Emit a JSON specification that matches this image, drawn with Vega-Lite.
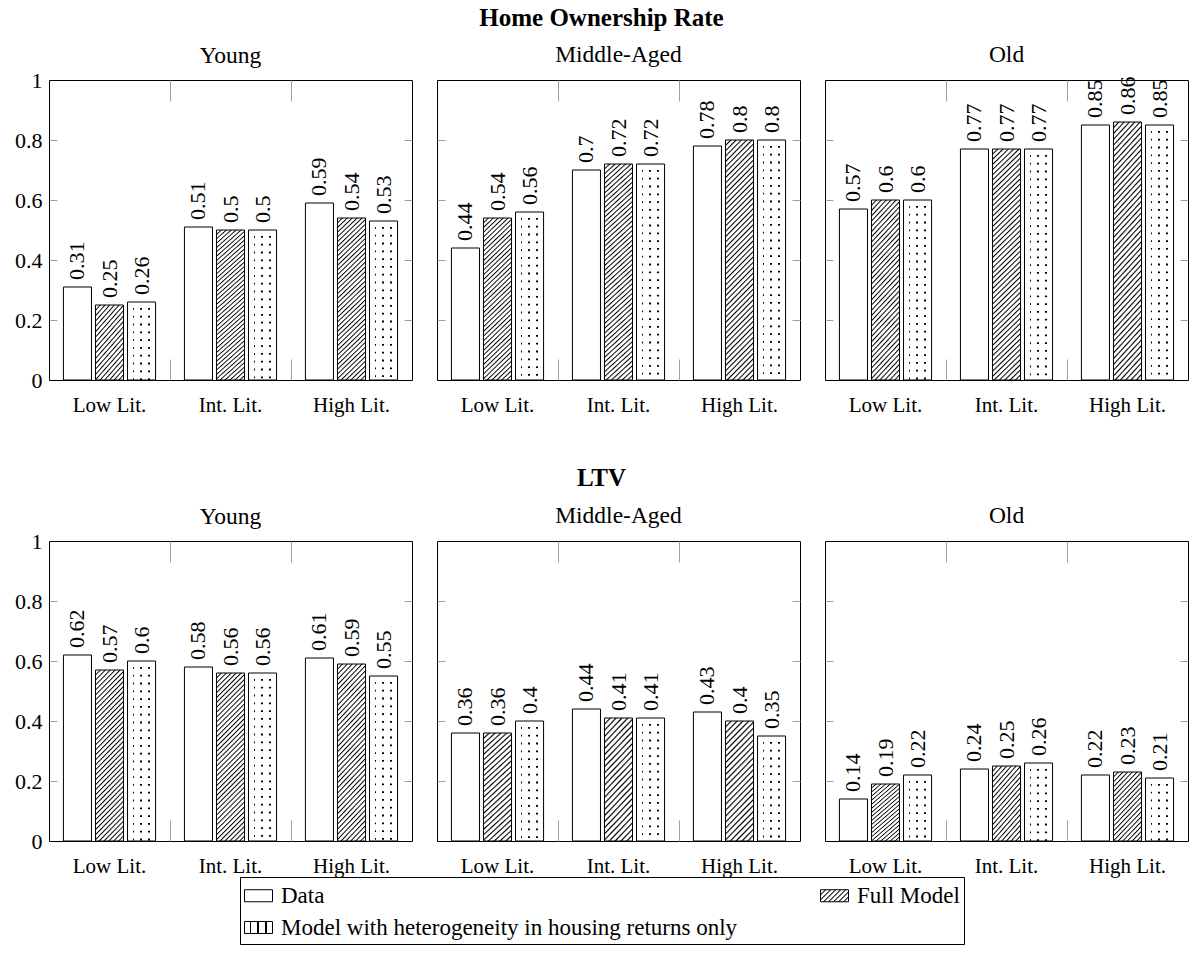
{
  "$schema": "https://vega.github.io/schema/vega-lite/v6.json",
  "background": "white",
  "padding": {"left": 14, "top": 5, "right": 0, "bottom": 0},
  "params": [
    {"name": "hS", "value": {"gradient": "linear", "x1": 0, "y1": 0, "x2": 0.512, "y2": 1.207, "stops": [
      {"offset": 0, "color": "#000"}, {"offset": 0.015, "color": "#fff"}, {"offset": 0.0375, "color": "#fff"},
      {"offset": 0.05, "color": "#000"}, {"offset": 0.065, "color": "#fff"}, {"offset": 0.0875, "color": "#fff"},
      {"offset": 0.1, "color": "#000"}, {"offset": 0.115, "color": "#fff"}, {"offset": 0.1375, "color": "#fff"},
      {"offset": 0.15, "color": "#000"}, {"offset": 0.165, "color": "#fff"}, {"offset": 0.1875, "color": "#fff"},
      {"offset": 0.2, "color": "#000"}, {"offset": 0.215, "color": "#fff"}, {"offset": 0.2375, "color": "#fff"},
      {"offset": 0.25, "color": "#000"}, {"offset": 0.265, "color": "#fff"}, {"offset": 0.2875, "color": "#fff"},
      {"offset": 0.3, "color": "#000"}, {"offset": 0.315, "color": "#fff"}, {"offset": 0.3375, "color": "#fff"},
      {"offset": 0.35, "color": "#000"}, {"offset": 0.365, "color": "#fff"}, {"offset": 0.3875, "color": "#fff"},
      {"offset": 0.4, "color": "#000"}, {"offset": 0.415, "color": "#fff"}, {"offset": 0.4375, "color": "#fff"},
      {"offset": 0.45, "color": "#000"}, {"offset": 0.465, "color": "#fff"}, {"offset": 0.4875, "color": "#fff"},
      {"offset": 0.5, "color": "#000"}, {"offset": 0.515, "color": "#fff"}, {"offset": 0.5375, "color": "#fff"},
      {"offset": 0.55, "color": "#000"}, {"offset": 0.565, "color": "#fff"}, {"offset": 0.5875, "color": "#fff"},
      {"offset": 0.6, "color": "#000"}, {"offset": 0.615, "color": "#fff"}, {"offset": 0.6375, "color": "#fff"},
      {"offset": 0.65, "color": "#000"}, {"offset": 0.665, "color": "#fff"}, {"offset": 0.6875, "color": "#fff"},
      {"offset": 0.7, "color": "#000"}, {"offset": 0.715, "color": "#fff"}, {"offset": 0.7375, "color": "#fff"},
      {"offset": 0.75, "color": "#000"}, {"offset": 0.765, "color": "#fff"}, {"offset": 0.7875, "color": "#fff"},
      {"offset": 0.8, "color": "#000"}, {"offset": 0.815, "color": "#fff"}, {"offset": 0.8375, "color": "#fff"},
      {"offset": 0.85, "color": "#000"}, {"offset": 0.865, "color": "#fff"}, {"offset": 0.8875, "color": "#fff"},
      {"offset": 0.9, "color": "#000"}, {"offset": 0.915, "color": "#fff"}, {"offset": 0.9375, "color": "#fff"},
      {"offset": 0.95, "color": "#000"}, {"offset": 0.965, "color": "#fff"}, {"offset": 0.9875, "color": "#fff"},
      {"offset": 1, "color": "#000"}
    ]}},
    {"name": "hM", "value": {"gradient": "linear", "x1": 0, "y1": 0, "x2": 0.2804, "y2": 1.172, "stops": [
      {"offset": 0, "color": "#000"}, {"offset": 0.012, "color": "#fff"}, {"offset": 0.03, "color": "#fff"},
      {"offset": 0.04, "color": "#000"}, {"offset": 0.052, "color": "#fff"}, {"offset": 0.07, "color": "#fff"},
      {"offset": 0.08, "color": "#000"}, {"offset": 0.092, "color": "#fff"}, {"offset": 0.11, "color": "#fff"},
      {"offset": 0.12, "color": "#000"}, {"offset": 0.132, "color": "#fff"}, {"offset": 0.15, "color": "#fff"},
      {"offset": 0.16, "color": "#000"}, {"offset": 0.172, "color": "#fff"}, {"offset": 0.19, "color": "#fff"},
      {"offset": 0.2, "color": "#000"}, {"offset": 0.212, "color": "#fff"}, {"offset": 0.23, "color": "#fff"},
      {"offset": 0.24, "color": "#000"}, {"offset": 0.252, "color": "#fff"}, {"offset": 0.27, "color": "#fff"},
      {"offset": 0.28, "color": "#000"}, {"offset": 0.292, "color": "#fff"}, {"offset": 0.31, "color": "#fff"},
      {"offset": 0.32, "color": "#000"}, {"offset": 0.332, "color": "#fff"}, {"offset": 0.35, "color": "#fff"},
      {"offset": 0.36, "color": "#000"}, {"offset": 0.372, "color": "#fff"}, {"offset": 0.39, "color": "#fff"},
      {"offset": 0.4, "color": "#000"}, {"offset": 0.412, "color": "#fff"}, {"offset": 0.43, "color": "#fff"},
      {"offset": 0.44, "color": "#000"}, {"offset": 0.452, "color": "#fff"}, {"offset": 0.47, "color": "#fff"},
      {"offset": 0.48, "color": "#000"}, {"offset": 0.492, "color": "#fff"}, {"offset": 0.51, "color": "#fff"},
      {"offset": 0.52, "color": "#000"}, {"offset": 0.532, "color": "#fff"}, {"offset": 0.55, "color": "#fff"},
      {"offset": 0.56, "color": "#000"}, {"offset": 0.572, "color": "#fff"}, {"offset": 0.59, "color": "#fff"},
      {"offset": 0.6, "color": "#000"}, {"offset": 0.612, "color": "#fff"}, {"offset": 0.63, "color": "#fff"},
      {"offset": 0.64, "color": "#000"}, {"offset": 0.652, "color": "#fff"}, {"offset": 0.67, "color": "#fff"},
      {"offset": 0.68, "color": "#000"}, {"offset": 0.692, "color": "#fff"}, {"offset": 0.71, "color": "#fff"},
      {"offset": 0.72, "color": "#000"}, {"offset": 0.732, "color": "#fff"}, {"offset": 0.75, "color": "#fff"},
      {"offset": 0.76, "color": "#000"}, {"offset": 0.772, "color": "#fff"}, {"offset": 0.79, "color": "#fff"},
      {"offset": 0.8, "color": "#000"}, {"offset": 0.812, "color": "#fff"}, {"offset": 0.83, "color": "#fff"},
      {"offset": 0.84, "color": "#000"}, {"offset": 0.852, "color": "#fff"}, {"offset": 0.87, "color": "#fff"},
      {"offset": 0.88, "color": "#000"}, {"offset": 0.892, "color": "#fff"}, {"offset": 0.91, "color": "#fff"},
      {"offset": 0.92, "color": "#000"}, {"offset": 0.932, "color": "#fff"}, {"offset": 0.95, "color": "#fff"},
      {"offset": 0.96, "color": "#000"}, {"offset": 0.972, "color": "#fff"}, {"offset": 0.99, "color": "#fff"},
      {"offset": 1, "color": "#000"}
    ]}},
    {"name": "hL", "value": {"gradient": "linear", "x1": 0, "y1": 0, "x2": 0.1892, "y2": 1.135, "stops": [
      {"offset": 0, "color": "#000"}, {"offset": 0.0075, "color": "#fff"}, {"offset": 0.01875, "color": "#fff"},
      {"offset": 0.025, "color": "#000"}, {"offset": 0.0325, "color": "#fff"}, {"offset": 0.04375, "color": "#fff"},
      {"offset": 0.05, "color": "#000"}, {"offset": 0.0575, "color": "#fff"}, {"offset": 0.06875, "color": "#fff"},
      {"offset": 0.075, "color": "#000"}, {"offset": 0.0825, "color": "#fff"}, {"offset": 0.09375, "color": "#fff"},
      {"offset": 0.1, "color": "#000"}, {"offset": 0.1075, "color": "#fff"}, {"offset": 0.11875, "color": "#fff"},
      {"offset": 0.125, "color": "#000"}, {"offset": 0.1325, "color": "#fff"}, {"offset": 0.14375, "color": "#fff"},
      {"offset": 0.15, "color": "#000"}, {"offset": 0.1575, "color": "#fff"}, {"offset": 0.16875, "color": "#fff"},
      {"offset": 0.175, "color": "#000"}, {"offset": 0.1825, "color": "#fff"}, {"offset": 0.19375, "color": "#fff"},
      {"offset": 0.2, "color": "#000"}, {"offset": 0.2075, "color": "#fff"}, {"offset": 0.21875, "color": "#fff"},
      {"offset": 0.225, "color": "#000"}, {"offset": 0.2325, "color": "#fff"}, {"offset": 0.24375, "color": "#fff"},
      {"offset": 0.25, "color": "#000"}, {"offset": 0.2575, "color": "#fff"}, {"offset": 0.26875, "color": "#fff"},
      {"offset": 0.275, "color": "#000"}, {"offset": 0.2825, "color": "#fff"}, {"offset": 0.29375, "color": "#fff"},
      {"offset": 0.3, "color": "#000"}, {"offset": 0.3075, "color": "#fff"}, {"offset": 0.31875, "color": "#fff"},
      {"offset": 0.325, "color": "#000"}, {"offset": 0.3325, "color": "#fff"}, {"offset": 0.34375, "color": "#fff"},
      {"offset": 0.35, "color": "#000"}, {"offset": 0.3575, "color": "#fff"}, {"offset": 0.36875, "color": "#fff"},
      {"offset": 0.375, "color": "#000"}, {"offset": 0.3825, "color": "#fff"}, {"offset": 0.39375, "color": "#fff"},
      {"offset": 0.4, "color": "#000"}, {"offset": 0.4075, "color": "#fff"}, {"offset": 0.41875, "color": "#fff"},
      {"offset": 0.425, "color": "#000"}, {"offset": 0.4325, "color": "#fff"}, {"offset": 0.44375, "color": "#fff"},
      {"offset": 0.45, "color": "#000"}, {"offset": 0.4575, "color": "#fff"}, {"offset": 0.46875, "color": "#fff"},
      {"offset": 0.475, "color": "#000"}, {"offset": 0.4825, "color": "#fff"}, {"offset": 0.49375, "color": "#fff"},
      {"offset": 0.5, "color": "#000"}, {"offset": 0.5075, "color": "#fff"}, {"offset": 0.51875, "color": "#fff"},
      {"offset": 0.525, "color": "#000"}, {"offset": 0.5325, "color": "#fff"}, {"offset": 0.54375, "color": "#fff"},
      {"offset": 0.55, "color": "#000"}, {"offset": 0.5575, "color": "#fff"}, {"offset": 0.56875, "color": "#fff"},
      {"offset": 0.575, "color": "#000"}, {"offset": 0.5825, "color": "#fff"}, {"offset": 0.59375, "color": "#fff"},
      {"offset": 0.6, "color": "#000"}, {"offset": 0.6075, "color": "#fff"}, {"offset": 0.61875, "color": "#fff"},
      {"offset": 0.625, "color": "#000"}, {"offset": 0.6325, "color": "#fff"}, {"offset": 0.64375, "color": "#fff"},
      {"offset": 0.65, "color": "#000"}, {"offset": 0.6575, "color": "#fff"}, {"offset": 0.66875, "color": "#fff"},
      {"offset": 0.675, "color": "#000"}, {"offset": 0.6825, "color": "#fff"}, {"offset": 0.69375, "color": "#fff"},
      {"offset": 0.7, "color": "#000"}, {"offset": 0.7075, "color": "#fff"}, {"offset": 0.71875, "color": "#fff"},
      {"offset": 0.725, "color": "#000"}, {"offset": 0.7325, "color": "#fff"}, {"offset": 0.74375, "color": "#fff"},
      {"offset": 0.75, "color": "#000"}, {"offset": 0.7575, "color": "#fff"}, {"offset": 0.76875, "color": "#fff"},
      {"offset": 0.775, "color": "#000"}, {"offset": 0.7825, "color": "#fff"}, {"offset": 0.79375, "color": "#fff"},
      {"offset": 0.8, "color": "#000"}, {"offset": 0.8075, "color": "#fff"}, {"offset": 0.81875, "color": "#fff"},
      {"offset": 0.825, "color": "#000"}, {"offset": 0.8325, "color": "#fff"}, {"offset": 0.84375, "color": "#fff"},
      {"offset": 0.85, "color": "#000"}, {"offset": 0.8575, "color": "#fff"}, {"offset": 0.86875, "color": "#fff"},
      {"offset": 0.875, "color": "#000"}, {"offset": 0.8825, "color": "#fff"}, {"offset": 0.89375, "color": "#fff"},
      {"offset": 0.9, "color": "#000"}, {"offset": 0.9075, "color": "#fff"}, {"offset": 0.91875, "color": "#fff"},
      {"offset": 0.925, "color": "#000"}, {"offset": 0.9325, "color": "#fff"}, {"offset": 0.94375, "color": "#fff"},
      {"offset": 0.95, "color": "#000"}, {"offset": 0.9575, "color": "#fff"}, {"offset": 0.96875, "color": "#fff"},
      {"offset": 0.975, "color": "#000"}, {"offset": 0.9825, "color": "#fff"}, {"offset": 0.99375, "color": "#fff"},
      {"offset": 1, "color": "#000"}
    ]}},
    {"name": "hXL", "value": {"gradient": "linear", "x1": 0, "y1": 0, "x2": 0.1304, "y2": 1.103, "stops": [
      {"offset": 0, "color": "#000"}, {"offset": 0.006, "color": "#fff"}, {"offset": 0.015, "color": "#fff"},
      {"offset": 0.02, "color": "#000"}, {"offset": 0.026, "color": "#fff"}, {"offset": 0.035, "color": "#fff"},
      {"offset": 0.04, "color": "#000"}, {"offset": 0.046, "color": "#fff"}, {"offset": 0.055, "color": "#fff"},
      {"offset": 0.06, "color": "#000"}, {"offset": 0.066, "color": "#fff"}, {"offset": 0.075, "color": "#fff"},
      {"offset": 0.08, "color": "#000"}, {"offset": 0.086, "color": "#fff"}, {"offset": 0.095, "color": "#fff"},
      {"offset": 0.1, "color": "#000"}, {"offset": 0.106, "color": "#fff"}, {"offset": 0.115, "color": "#fff"},
      {"offset": 0.12, "color": "#000"}, {"offset": 0.126, "color": "#fff"}, {"offset": 0.135, "color": "#fff"},
      {"offset": 0.14, "color": "#000"}, {"offset": 0.146, "color": "#fff"}, {"offset": 0.155, "color": "#fff"},
      {"offset": 0.16, "color": "#000"}, {"offset": 0.166, "color": "#fff"}, {"offset": 0.175, "color": "#fff"},
      {"offset": 0.18, "color": "#000"}, {"offset": 0.186, "color": "#fff"}, {"offset": 0.195, "color": "#fff"},
      {"offset": 0.2, "color": "#000"}, {"offset": 0.206, "color": "#fff"}, {"offset": 0.215, "color": "#fff"},
      {"offset": 0.22, "color": "#000"}, {"offset": 0.226, "color": "#fff"}, {"offset": 0.235, "color": "#fff"},
      {"offset": 0.24, "color": "#000"}, {"offset": 0.246, "color": "#fff"}, {"offset": 0.255, "color": "#fff"},
      {"offset": 0.26, "color": "#000"}, {"offset": 0.266, "color": "#fff"}, {"offset": 0.275, "color": "#fff"},
      {"offset": 0.28, "color": "#000"}, {"offset": 0.286, "color": "#fff"}, {"offset": 0.295, "color": "#fff"},
      {"offset": 0.3, "color": "#000"}, {"offset": 0.306, "color": "#fff"}, {"offset": 0.315, "color": "#fff"},
      {"offset": 0.32, "color": "#000"}, {"offset": 0.326, "color": "#fff"}, {"offset": 0.335, "color": "#fff"},
      {"offset": 0.34, "color": "#000"}, {"offset": 0.346, "color": "#fff"}, {"offset": 0.355, "color": "#fff"},
      {"offset": 0.36, "color": "#000"}, {"offset": 0.366, "color": "#fff"}, {"offset": 0.375, "color": "#fff"},
      {"offset": 0.38, "color": "#000"}, {"offset": 0.386, "color": "#fff"}, {"offset": 0.395, "color": "#fff"},
      {"offset": 0.4, "color": "#000"}, {"offset": 0.406, "color": "#fff"}, {"offset": 0.415, "color": "#fff"},
      {"offset": 0.42, "color": "#000"}, {"offset": 0.426, "color": "#fff"}, {"offset": 0.435, "color": "#fff"},
      {"offset": 0.44, "color": "#000"}, {"offset": 0.446, "color": "#fff"}, {"offset": 0.455, "color": "#fff"},
      {"offset": 0.46, "color": "#000"}, {"offset": 0.466, "color": "#fff"}, {"offset": 0.475, "color": "#fff"},
      {"offset": 0.48, "color": "#000"}, {"offset": 0.486, "color": "#fff"}, {"offset": 0.495, "color": "#fff"},
      {"offset": 0.5, "color": "#000"}, {"offset": 0.506, "color": "#fff"}, {"offset": 0.515, "color": "#fff"},
      {"offset": 0.52, "color": "#000"}, {"offset": 0.526, "color": "#fff"}, {"offset": 0.535, "color": "#fff"},
      {"offset": 0.54, "color": "#000"}, {"offset": 0.546, "color": "#fff"}, {"offset": 0.555, "color": "#fff"},
      {"offset": 0.56, "color": "#000"}, {"offset": 0.566, "color": "#fff"}, {"offset": 0.575, "color": "#fff"},
      {"offset": 0.58, "color": "#000"}, {"offset": 0.586, "color": "#fff"}, {"offset": 0.595, "color": "#fff"},
      {"offset": 0.6, "color": "#000"}, {"offset": 0.606, "color": "#fff"}, {"offset": 0.615, "color": "#fff"},
      {"offset": 0.62, "color": "#000"}, {"offset": 0.626, "color": "#fff"}, {"offset": 0.635, "color": "#fff"},
      {"offset": 0.64, "color": "#000"}, {"offset": 0.646, "color": "#fff"}, {"offset": 0.655, "color": "#fff"},
      {"offset": 0.66, "color": "#000"}, {"offset": 0.666, "color": "#fff"}, {"offset": 0.675, "color": "#fff"},
      {"offset": 0.68, "color": "#000"}, {"offset": 0.686, "color": "#fff"}, {"offset": 0.695, "color": "#fff"},
      {"offset": 0.7, "color": "#000"}, {"offset": 0.706, "color": "#fff"}, {"offset": 0.715, "color": "#fff"},
      {"offset": 0.72, "color": "#000"}, {"offset": 0.726, "color": "#fff"}, {"offset": 0.735, "color": "#fff"},
      {"offset": 0.74, "color": "#000"}, {"offset": 0.746, "color": "#fff"}, {"offset": 0.755, "color": "#fff"},
      {"offset": 0.76, "color": "#000"}, {"offset": 0.766, "color": "#fff"}, {"offset": 0.775, "color": "#fff"},
      {"offset": 0.78, "color": "#000"}, {"offset": 0.786, "color": "#fff"}, {"offset": 0.795, "color": "#fff"},
      {"offset": 0.8, "color": "#000"}, {"offset": 0.806, "color": "#fff"}, {"offset": 0.815, "color": "#fff"},
      {"offset": 0.82, "color": "#000"}, {"offset": 0.826, "color": "#fff"}, {"offset": 0.835, "color": "#fff"},
      {"offset": 0.84, "color": "#000"}, {"offset": 0.846, "color": "#fff"}, {"offset": 0.855, "color": "#fff"},
      {"offset": 0.86, "color": "#000"}, {"offset": 0.866, "color": "#fff"}, {"offset": 0.875, "color": "#fff"},
      {"offset": 0.88, "color": "#000"}, {"offset": 0.886, "color": "#fff"}, {"offset": 0.895, "color": "#fff"},
      {"offset": 0.9, "color": "#000"}, {"offset": 0.906, "color": "#fff"}, {"offset": 0.915, "color": "#fff"},
      {"offset": 0.92, "color": "#000"}, {"offset": 0.926, "color": "#fff"}, {"offset": 0.935, "color": "#fff"},
      {"offset": 0.94, "color": "#000"}, {"offset": 0.946, "color": "#fff"}, {"offset": 0.955, "color": "#fff"},
      {"offset": 0.96, "color": "#000"}, {"offset": 0.966, "color": "#fff"}, {"offset": 0.975, "color": "#fff"},
      {"offset": 0.98, "color": "#000"}, {"offset": 0.986, "color": "#fff"}, {"offset": 0.995, "color": "#fff"},
      {"offset": 1, "color": "#000"}
    ]}},
    {"name": "dots", "value": {"gradient": "linear", "x1": 0, "y1": 0, "x2": 1, "y2": 0, "stops": [
      {"offset": 0, "color": "#fff"}, {"offset": 0.182, "color": "#fff"}, {"offset": 0.182, "color": "#000"}, {"offset": 0.246, "color": "#000"}, {"offset": 0.246, "color": "#fff"},
      {"offset": 0.457, "color": "#fff"}, {"offset": 0.457, "color": "#000"}, {"offset": 0.521, "color": "#000"}, {"offset": 0.521, "color": "#fff"},
      {"offset": 0.732, "color": "#fff"}, {"offset": 0.732, "color": "#000"}, {"offset": 0.796, "color": "#000"}, {"offset": 0.796, "color": "#fff"}, {"offset": 1, "color": "#fff"}
    ]}},
    {"name": "hatchL", "value": {"gradient": "linear", "x1": 0, "y1": 0, "x2": 1.21, "y2": 0.52, "stops": [
      {"offset": 0, "color": "#000"}, {"offset": 0.0375, "color": "#fff"}, {"offset": 0.094, "color": "#fff"},
      {"offset": 0.125, "color": "#000"}, {"offset": 0.1625, "color": "#fff"}, {"offset": 0.219, "color": "#fff"},
      {"offset": 0.25, "color": "#000"}, {"offset": 0.2875, "color": "#fff"}, {"offset": 0.344, "color": "#fff"},
      {"offset": 0.375, "color": "#000"}, {"offset": 0.4125, "color": "#fff"}, {"offset": 0.469, "color": "#fff"},
      {"offset": 0.5, "color": "#000"}, {"offset": 0.5375, "color": "#fff"}, {"offset": 0.594, "color": "#fff"},
      {"offset": 0.625, "color": "#000"}, {"offset": 0.6625, "color": "#fff"}, {"offset": 0.719, "color": "#fff"},
      {"offset": 0.75, "color": "#000"}, {"offset": 0.7875, "color": "#fff"}, {"offset": 0.844, "color": "#fff"},
      {"offset": 0.875, "color": "#000"}, {"offset": 0.9125, "color": "#fff"}, {"offset": 0.969, "color": "#fff"},
      {"offset": 1, "color": "#000"}
    ]}}
  ],
  "config": {
    "font": "Liberation Serif",
    "view": {"stroke": "black", "strokeWidth": 1},
    "axis": {"labelFont": "Liberation Serif", "labelFontSize": 22, "labelColor": "black", "tickColor": "#a0a0a0", "tickWidth": 1, "grid": false, "domain": false, "title": null},
    "axisX": {"labelFontSize": 21},
    "title": {"font": "Liberation Serif", "fontSize": 23.5, "fontWeight": "normal", "color": "black", "offset": 13, "baseline": "alphabetic"},
    "concat": {"spacing": 23},
    "legend": {"orient": "bottom", "offset": 0, "layout": {"anchor": "middle", "bounds": "flush", "bottom": {"anchor": "middle", "bounds": "flush"}}, "direction": "horizontal", "columns": 2, "labelFont": "Liberation Serif", "labelFontSize": 23, "labelColor": "black", "labelLimit": 900, "symbolType": "M-1,-0.43H1V0.43H-1Z", "symbolSize": 784, "symbolStrokeColor": "black", "symbolStrokeWidth": 1, "strokeColor": "black", "fillColor": "white", "padding": 4, "rowPadding": 5, "columnPadding": 80, "labelOffset": 8}
  },
  "datasets": {
    "d": [
      {"m": "HOR", "age": "Young", "lit": "Low Lit.", "series": "Data", "value": 0.31},
      {"m": "HOR", "age": "Young", "lit": "Low Lit.", "series": "Full Model", "value": 0.25},
      {"m": "HOR", "age": "Young", "lit": "Low Lit.", "series": "Model with heterogeneity in housing returns only", "value": 0.26},
      {"m": "HOR", "age": "Young", "lit": "Int. Lit.", "series": "Data", "value": 0.51},
      {"m": "HOR", "age": "Young", "lit": "Int. Lit.", "series": "Full Model", "value": 0.5},
      {"m": "HOR", "age": "Young", "lit": "Int. Lit.", "series": "Model with heterogeneity in housing returns only", "value": 0.5},
      {"m": "HOR", "age": "Young", "lit": "High Lit.", "series": "Data", "value": 0.59},
      {"m": "HOR", "age": "Young", "lit": "High Lit.", "series": "Full Model", "value": 0.54},
      {"m": "HOR", "age": "Young", "lit": "High Lit.", "series": "Model with heterogeneity in housing returns only", "value": 0.53},
      {"m": "HOR", "age": "Middle-Aged", "lit": "Low Lit.", "series": "Data", "value": 0.44},
      {"m": "HOR", "age": "Middle-Aged", "lit": "Low Lit.", "series": "Full Model", "value": 0.54},
      {"m": "HOR", "age": "Middle-Aged", "lit": "Low Lit.", "series": "Model with heterogeneity in housing returns only", "value": 0.56},
      {"m": "HOR", "age": "Middle-Aged", "lit": "Int. Lit.", "series": "Data", "value": 0.7},
      {"m": "HOR", "age": "Middle-Aged", "lit": "Int. Lit.", "series": "Full Model", "value": 0.72},
      {"m": "HOR", "age": "Middle-Aged", "lit": "Int. Lit.", "series": "Model with heterogeneity in housing returns only", "value": 0.72},
      {"m": "HOR", "age": "Middle-Aged", "lit": "High Lit.", "series": "Data", "value": 0.78},
      {"m": "HOR", "age": "Middle-Aged", "lit": "High Lit.", "series": "Full Model", "value": 0.8},
      {"m": "HOR", "age": "Middle-Aged", "lit": "High Lit.", "series": "Model with heterogeneity in housing returns only", "value": 0.8},
      {"m": "HOR", "age": "Old", "lit": "Low Lit.", "series": "Data", "value": 0.57},
      {"m": "HOR", "age": "Old", "lit": "Low Lit.", "series": "Full Model", "value": 0.6},
      {"m": "HOR", "age": "Old", "lit": "Low Lit.", "series": "Model with heterogeneity in housing returns only", "value": 0.6},
      {"m": "HOR", "age": "Old", "lit": "Int. Lit.", "series": "Data", "value": 0.77},
      {"m": "HOR", "age": "Old", "lit": "Int. Lit.", "series": "Full Model", "value": 0.77},
      {"m": "HOR", "age": "Old", "lit": "Int. Lit.", "series": "Model with heterogeneity in housing returns only", "value": 0.77},
      {"m": "HOR", "age": "Old", "lit": "High Lit.", "series": "Data", "value": 0.85},
      {"m": "HOR", "age": "Old", "lit": "High Lit.", "series": "Full Model", "value": 0.86},
      {"m": "HOR", "age": "Old", "lit": "High Lit.", "series": "Model with heterogeneity in housing returns only", "value": 0.85},
      {"m": "LTV", "age": "Young", "lit": "Low Lit.", "series": "Data", "value": 0.62},
      {"m": "LTV", "age": "Young", "lit": "Low Lit.", "series": "Full Model", "value": 0.57},
      {"m": "LTV", "age": "Young", "lit": "Low Lit.", "series": "Model with heterogeneity in housing returns only", "value": 0.6},
      {"m": "LTV", "age": "Young", "lit": "Int. Lit.", "series": "Data", "value": 0.58},
      {"m": "LTV", "age": "Young", "lit": "Int. Lit.", "series": "Full Model", "value": 0.56},
      {"m": "LTV", "age": "Young", "lit": "Int. Lit.", "series": "Model with heterogeneity in housing returns only", "value": 0.56},
      {"m": "LTV", "age": "Young", "lit": "High Lit.", "series": "Data", "value": 0.61},
      {"m": "LTV", "age": "Young", "lit": "High Lit.", "series": "Full Model", "value": 0.59},
      {"m": "LTV", "age": "Young", "lit": "High Lit.", "series": "Model with heterogeneity in housing returns only", "value": 0.55},
      {"m": "LTV", "age": "Middle-Aged", "lit": "Low Lit.", "series": "Data", "value": 0.36},
      {"m": "LTV", "age": "Middle-Aged", "lit": "Low Lit.", "series": "Full Model", "value": 0.36},
      {"m": "LTV", "age": "Middle-Aged", "lit": "Low Lit.", "series": "Model with heterogeneity in housing returns only", "value": 0.4},
      {"m": "LTV", "age": "Middle-Aged", "lit": "Int. Lit.", "series": "Data", "value": 0.44},
      {"m": "LTV", "age": "Middle-Aged", "lit": "Int. Lit.", "series": "Full Model", "value": 0.41},
      {"m": "LTV", "age": "Middle-Aged", "lit": "Int. Lit.", "series": "Model with heterogeneity in housing returns only", "value": 0.41},
      {"m": "LTV", "age": "Middle-Aged", "lit": "High Lit.", "series": "Data", "value": 0.43},
      {"m": "LTV", "age": "Middle-Aged", "lit": "High Lit.", "series": "Full Model", "value": 0.4},
      {"m": "LTV", "age": "Middle-Aged", "lit": "High Lit.", "series": "Model with heterogeneity in housing returns only", "value": 0.35},
      {"m": "LTV", "age": "Old", "lit": "Low Lit.", "series": "Data", "value": 0.14},
      {"m": "LTV", "age": "Old", "lit": "Low Lit.", "series": "Full Model", "value": 0.19},
      {"m": "LTV", "age": "Old", "lit": "Low Lit.", "series": "Model with heterogeneity in housing returns only", "value": 0.22},
      {"m": "LTV", "age": "Old", "lit": "Int. Lit.", "series": "Data", "value": 0.24},
      {"m": "LTV", "age": "Old", "lit": "Int. Lit.", "series": "Full Model", "value": 0.25},
      {"m": "LTV", "age": "Old", "lit": "Int. Lit.", "series": "Model with heterogeneity in housing returns only", "value": 0.26},
      {"m": "LTV", "age": "Old", "lit": "High Lit.", "series": "Data", "value": 0.22},
      {"m": "LTV", "age": "Old", "lit": "High Lit.", "series": "Full Model", "value": 0.23},
      {"m": "LTV", "age": "Old", "lit": "High Lit.", "series": "Model with heterogeneity in housing returns only", "value": 0.21}
    ]
  },
  "data": {"name": "d"},
  "spacing": 49,
  "resolve": {"scale": {"xOffset": "independent"}},
  "vconcat": [
    {
      "title": {"text": "Home Ownership Rate", "fontSize": 25, "fontWeight": "bold", "anchor": "middle", "offset": 12},
      "resolve": {"scale": {"xOffset": "independent"}},
      "hconcat": [
        {
          "width": 363, "height": 300, "title": {"text": "Young", "offset": 2},
          "transform": [{"filter": "datum.m === 'HOR' && datum.age === 'Young'"}],
          "layer": [
            {"mark": {"type": "bar", "fill": {"expr": "hatchL"}, "opacity": 0},
             "encoding": {"x": {"field": "lit", "type": "nominal", "sort": ["Low Lit.", "Int. Lit.", "High Lit."], "axis": null}, "xOffset": {"field": "series", "type": "nominal", "sort": ["Data", "Full Model", "Model with heterogeneity in housing returns only"]}, "y": {"field": "value", "type": "quantitative", "axis": null}}},
            {"mark": {"type": "bar"},
             "encoding": {
               "x": {"field": "lit", "type": "nominal", "sort": ["Low Lit.", "Int. Lit.", "High Lit."], "scale": {"paddingInner": 0, "paddingOuter": 0}, "axis": {"orient": "bottom", "bandPosition": 0, "tickSize": -21, "labelPadding": 35, "labelAngle": 0, "tickOpacity": {"condition": {"test": "datum.value === 'Low Lit.'", "value": 0}, "value": 1}}},
               "xOffset": {"field": "series", "type": "nominal", "sort": ["Data", "Full Model", "Model with heterogeneity in housing returns only"], "scale": {"domain": ["Data", "Full Model", "Model with heterogeneity in housing returns only"], "paddingInner": 0.125, "paddingOuter": 0.45}},
               "y": {"field": "value", "type": "quantitative", "scale": {"domain": [0, 1], "nice": false}, "axis": {"orient": "left", "values": [0, 0.2, 0.4, 0.6, 0.8, 1], "format": "~g", "tickSize": -8, "labelPadding": 15, "tickOpacity": {"condition": {"test": "datum.value == 0 || datum.value == 1", "value": 0}, "value": 1}}},
               "fill": {"field": "series", "type": "nominal", "title": null, "sort": ["Data", "Full Model", "Model with heterogeneity in housing returns only"],
                 "scale": {"domain": ["Data", "Full Model", "Model with heterogeneity in housing returns only"], "range": ["white", "url(#gradient_0)", "url(#gradient_3)"]}}
             }},
            {"transform": [{"filter": "datum.series === 'Full Model'"}], "mark": {"type": "bar", "fill": {"expr": "datum.value < 0.3 ? hS : (datum.value < 0.47 ? hM : (datum.value < 0.65 ? hL : hXL))"}},
             "encoding": {"x": {"field": "lit", "type": "nominal", "sort": ["Low Lit.", "Int. Lit.", "High Lit."], "axis": null}, "xOffset": {"field": "series", "type": "nominal", "sort": ["Data", "Full Model", "Model with heterogeneity in housing returns only"]}, "y": {"field": "value", "type": "quantitative", "axis": null}}},
            {"transform": [{"filter": "datum.series === 'Model with heterogeneity in housing returns only'"}], "mark": {"type": "bar", "fill": {"expr": "dots"}},
             "encoding": {"x": {"field": "lit", "type": "nominal", "sort": ["Low Lit.", "Int. Lit.", "High Lit."], "axis": null}, "xOffset": {"field": "series", "type": "nominal", "sort": ["Data", "Full Model", "Model with heterogeneity in housing returns only"]}, "y": {"field": "value", "type": "quantitative", "axis": null}}},
            {"transform": [{"filter": "datum.series === 'Model with heterogeneity in housing returns only'"}],
             "mark": {"type": "rule", "stroke": "white", "strokeWidth": 26, "strokeDash": [6, 1.8], "strokeCap": "butt"},
             "encoding": {
               "x": {"field": "lit", "type": "nominal", "sort": ["Low Lit.", "Int. Lit.", "High Lit."], "axis": {"orient": "top", "bandPosition": 0, "tickSize": -21, "labels": false, "tickOpacity": {"condition": {"test": "datum.value === 'Low Lit.'", "value": 0}, "value": 1}}},
               "xOffset": {"field": "series", "type": "nominal", "sort": ["Data", "Full Model", "Model with heterogeneity in housing returns only"]},
               "y": {"field": "value", "type": "quantitative", "axis": {"orient": "right", "values": [0, 0.2, 0.4, 0.6, 0.8, 1], "tickSize": -8, "labels": false, "tickOpacity": {"condition": {"test": "datum.value == 0 || datum.value == 1", "value": 0}, "value": 1}}},
               "y2": {"datum": 0}
             }},
            {"mark": {"type": "bar", "fillOpacity": 0, "stroke": "black", "strokeWidth": 1},
             "encoding": {"x": {"field": "lit", "type": "nominal", "sort": ["Low Lit.", "Int. Lit.", "High Lit."], "axis": null}, "xOffset": {"field": "series", "type": "nominal", "sort": ["Data", "Full Model", "Model with heterogeneity in housing returns only"]}, "y": {"field": "value", "type": "quantitative", "axis": null}}},
            {"mark": {"type": "text", "angle": 270, "align": "left", "baseline": "middle", "dx": 7, "fontSize": 22, "font": "Liberation Serif", "color": "black"},
             "encoding": {"x": {"field": "lit", "type": "nominal", "sort": ["Low Lit.", "Int. Lit.", "High Lit."], "axis": null}, "xOffset": {"field": "series", "type": "nominal", "sort": ["Data", "Full Model", "Model with heterogeneity in housing returns only"]}, "y": {"field": "value", "type": "quantitative", "axis": null}, "text": {"field": "value", "type": "quantitative", "format": "~g"}}}
          ],
          "resolve": {"axis": {"x": "independent", "y": "independent"}}
        },
        {
          "width": 363, "height": 300, "title": "Middle-Aged",
          "transform": [{"filter": "datum.m === 'HOR' && datum.age === 'Middle-Aged'"}],
          "layer": [
            {"mark": {"type": "bar"},
             "encoding": {
               "x": {"field": "lit", "type": "nominal", "sort": ["Low Lit.", "Int. Lit.", "High Lit."], "scale": {"paddingInner": 0, "paddingOuter": 0}, "axis": {"orient": "bottom", "bandPosition": 0, "tickSize": -21, "labelPadding": 35, "labelAngle": 0, "tickOpacity": {"condition": {"test": "datum.value === 'Low Lit.'", "value": 0}, "value": 1}}},
               "xOffset": {"field": "series", "type": "nominal", "sort": ["Data", "Full Model", "Model with heterogeneity in housing returns only"], "scale": {"domain": ["Data", "Full Model", "Model with heterogeneity in housing returns only"], "paddingInner": 0.125, "paddingOuter": 0.45}},
               "y": {"field": "value", "type": "quantitative", "scale": {"domain": [0, 1], "nice": false}, "axis": {"orient": "left", "values": [0, 0.2, 0.4, 0.6, 0.8, 1], "tickSize": -8, "labels": false, "tickOpacity": {"condition": {"test": "datum.value == 0 || datum.value == 1", "value": 0}, "value": 1}}},
               "fill": {"field": "series", "type": "nominal", "title": null, "sort": ["Data", "Full Model", "Model with heterogeneity in housing returns only"]}
             }},
            {"transform": [{"filter": "datum.series === 'Full Model'"}], "mark": {"type": "bar", "fill": {"expr": "datum.value < 0.3 ? hS : (datum.value < 0.47 ? hM : (datum.value < 0.65 ? hL : hXL))"}},
             "encoding": {"x": {"field": "lit", "type": "nominal", "sort": ["Low Lit.", "Int. Lit.", "High Lit."], "axis": null}, "xOffset": {"field": "series", "type": "nominal", "sort": ["Data", "Full Model", "Model with heterogeneity in housing returns only"]}, "y": {"field": "value", "type": "quantitative", "axis": null}}},
            {"transform": [{"filter": "datum.series === 'Model with heterogeneity in housing returns only'"}], "mark": {"type": "bar", "fill": {"expr": "dots"}},
             "encoding": {"x": {"field": "lit", "type": "nominal", "sort": ["Low Lit.", "Int. Lit.", "High Lit."], "axis": null}, "xOffset": {"field": "series", "type": "nominal", "sort": ["Data", "Full Model", "Model with heterogeneity in housing returns only"]}, "y": {"field": "value", "type": "quantitative", "axis": null}}},
            {"transform": [{"filter": "datum.series === 'Model with heterogeneity in housing returns only'"}],
             "mark": {"type": "rule", "stroke": "white", "strokeWidth": 26, "strokeDash": [6, 1.8], "strokeCap": "butt"},
             "encoding": {
               "x": {"field": "lit", "type": "nominal", "sort": ["Low Lit.", "Int. Lit.", "High Lit."], "axis": {"orient": "top", "bandPosition": 0, "tickSize": -21, "labels": false, "tickOpacity": {"condition": {"test": "datum.value === 'Low Lit.'", "value": 0}, "value": 1}}},
               "xOffset": {"field": "series", "type": "nominal", "sort": ["Data", "Full Model", "Model with heterogeneity in housing returns only"]},
               "y": {"field": "value", "type": "quantitative", "axis": {"orient": "right", "values": [0, 0.2, 0.4, 0.6, 0.8, 1], "tickSize": -8, "labels": false, "tickOpacity": {"condition": {"test": "datum.value == 0 || datum.value == 1", "value": 0}, "value": 1}}},
               "y2": {"datum": 0}
             }},
            {"mark": {"type": "bar", "fillOpacity": 0, "stroke": "black", "strokeWidth": 1},
             "encoding": {"x": {"field": "lit", "type": "nominal", "sort": ["Low Lit.", "Int. Lit.", "High Lit."], "axis": null}, "xOffset": {"field": "series", "type": "nominal", "sort": ["Data", "Full Model", "Model with heterogeneity in housing returns only"]}, "y": {"field": "value", "type": "quantitative", "axis": null}}},
            {"mark": {"type": "text", "angle": 270, "align": "left", "baseline": "middle", "dx": 7, "fontSize": 22, "font": "Liberation Serif", "color": "black"},
             "encoding": {"x": {"field": "lit", "type": "nominal", "sort": ["Low Lit.", "Int. Lit.", "High Lit."], "axis": null}, "xOffset": {"field": "series", "type": "nominal", "sort": ["Data", "Full Model", "Model with heterogeneity in housing returns only"]}, "y": {"field": "value", "type": "quantitative", "axis": null}, "text": {"field": "value", "type": "quantitative", "format": "~g"}}}
          ],
          "resolve": {"axis": {"x": "independent", "y": "independent"}}
        },
        {
          "width": 363, "height": 300, "title": {"text": "Old", "offset": 10},
          "transform": [{"filter": "datum.m === 'HOR' && datum.age === 'Old'"}],
          "layer": [
            {"mark": {"type": "bar"},
             "encoding": {
               "x": {"field": "lit", "type": "nominal", "sort": ["Low Lit.", "Int. Lit.", "High Lit."], "scale": {"paddingInner": 0, "paddingOuter": 0}, "axis": {"orient": "bottom", "bandPosition": 0, "tickSize": -21, "labelPadding": 35, "labelAngle": 0, "tickOpacity": {"condition": {"test": "datum.value === 'Low Lit.'", "value": 0}, "value": 1}}},
               "xOffset": {"field": "series", "type": "nominal", "sort": ["Data", "Full Model", "Model with heterogeneity in housing returns only"], "scale": {"domain": ["Data", "Full Model", "Model with heterogeneity in housing returns only"], "paddingInner": 0.125, "paddingOuter": 0.45}},
               "y": {"field": "value", "type": "quantitative", "scale": {"domain": [0, 1], "nice": false}, "axis": {"orient": "left", "values": [0, 0.2, 0.4, 0.6, 0.8, 1], "tickSize": -8, "labels": false, "tickOpacity": {"condition": {"test": "datum.value == 0 || datum.value == 1", "value": 0}, "value": 1}}},
               "fill": {"field": "series", "type": "nominal", "title": null, "sort": ["Data", "Full Model", "Model with heterogeneity in housing returns only"]}
             }},
            {"transform": [{"filter": "datum.series === 'Full Model'"}], "mark": {"type": "bar", "fill": {"expr": "datum.value < 0.3 ? hS : (datum.value < 0.47 ? hM : (datum.value < 0.65 ? hL : hXL))"}},
             "encoding": {"x": {"field": "lit", "type": "nominal", "sort": ["Low Lit.", "Int. Lit.", "High Lit."], "axis": null}, "xOffset": {"field": "series", "type": "nominal", "sort": ["Data", "Full Model", "Model with heterogeneity in housing returns only"]}, "y": {"field": "value", "type": "quantitative", "axis": null}}},
            {"transform": [{"filter": "datum.series === 'Model with heterogeneity in housing returns only'"}], "mark": {"type": "bar", "fill": {"expr": "dots"}},
             "encoding": {"x": {"field": "lit", "type": "nominal", "sort": ["Low Lit.", "Int. Lit.", "High Lit."], "axis": null}, "xOffset": {"field": "series", "type": "nominal", "sort": ["Data", "Full Model", "Model with heterogeneity in housing returns only"]}, "y": {"field": "value", "type": "quantitative", "axis": null}}},
            {"transform": [{"filter": "datum.series === 'Model with heterogeneity in housing returns only'"}],
             "mark": {"type": "rule", "stroke": "white", "strokeWidth": 26, "strokeDash": [6, 1.8], "strokeCap": "butt"},
             "encoding": {
               "x": {"field": "lit", "type": "nominal", "sort": ["Low Lit.", "Int. Lit.", "High Lit."], "axis": {"orient": "top", "bandPosition": 0, "tickSize": -21, "labels": false, "tickOpacity": {"condition": {"test": "datum.value === 'Low Lit.'", "value": 0}, "value": 1}}},
               "xOffset": {"field": "series", "type": "nominal", "sort": ["Data", "Full Model", "Model with heterogeneity in housing returns only"]},
               "y": {"field": "value", "type": "quantitative", "axis": {"orient": "right", "values": [0, 0.2, 0.4, 0.6, 0.8, 1], "tickSize": -8, "labels": false, "tickOpacity": {"condition": {"test": "datum.value == 0 || datum.value == 1", "value": 0}, "value": 1}}},
               "y2": {"datum": 0}
             }},
            {"mark": {"type": "bar", "fillOpacity": 0, "stroke": "black", "strokeWidth": 1},
             "encoding": {"x": {"field": "lit", "type": "nominal", "sort": ["Low Lit.", "Int. Lit.", "High Lit."], "axis": null}, "xOffset": {"field": "series", "type": "nominal", "sort": ["Data", "Full Model", "Model with heterogeneity in housing returns only"]}, "y": {"field": "value", "type": "quantitative", "axis": null}}},
            {"mark": {"type": "text", "angle": 270, "align": "left", "baseline": "middle", "dx": 7, "fontSize": 22, "font": "Liberation Serif", "color": "black"},
             "encoding": {"x": {"field": "lit", "type": "nominal", "sort": ["Low Lit.", "Int. Lit.", "High Lit."], "axis": null}, "xOffset": {"field": "series", "type": "nominal", "sort": ["Data", "Full Model", "Model with heterogeneity in housing returns only"]}, "y": {"field": "value", "type": "quantitative", "axis": null}, "text": {"field": "value", "type": "quantitative", "format": "~g"}}}
          ],
          "resolve": {"axis": {"x": "independent", "y": "independent"}}
        }
      ]
    },
    {
      "title": {"text": "LTV", "fontSize": 25, "fontWeight": "bold", "anchor": "middle", "offset": 13},
      "resolve": {"scale": {"xOffset": "independent"}},
      "hconcat": [
        {
          "width": 363, "height": 300, "title": {"text": "Young", "offset": 2},
          "transform": [{"filter": "datum.m === 'LTV' && datum.age === 'Young'"}],
          "layer": [
            {"mark": {"type": "bar"},
             "encoding": {
               "x": {"field": "lit", "type": "nominal", "sort": ["Low Lit.", "Int. Lit.", "High Lit."], "scale": {"paddingInner": 0, "paddingOuter": 0}, "axis": {"orient": "bottom", "bandPosition": 0, "tickSize": -21, "labelPadding": 35, "labelAngle": 0, "tickOpacity": {"condition": {"test": "datum.value === 'Low Lit.'", "value": 0}, "value": 1}}},
               "xOffset": {"field": "series", "type": "nominal", "sort": ["Data", "Full Model", "Model with heterogeneity in housing returns only"], "scale": {"domain": ["Data", "Full Model", "Model with heterogeneity in housing returns only"], "paddingInner": 0.125, "paddingOuter": 0.45}},
               "y": {"field": "value", "type": "quantitative", "scale": {"domain": [0, 1], "nice": false}, "axis": {"orient": "left", "values": [0, 0.2, 0.4, 0.6, 0.8, 1], "format": "~g", "tickSize": -8, "labelPadding": 15, "tickOpacity": {"condition": {"test": "datum.value == 0 || datum.value == 1", "value": 0}, "value": 1}}},
               "fill": {"field": "series", "type": "nominal", "title": null, "sort": ["Data", "Full Model", "Model with heterogeneity in housing returns only"]}
             }},
            {"transform": [{"filter": "datum.series === 'Full Model'"}], "mark": {"type": "bar", "fill": {"expr": "datum.value < 0.3 ? hS : (datum.value < 0.47 ? hM : (datum.value < 0.65 ? hL : hXL))"}},
             "encoding": {"x": {"field": "lit", "type": "nominal", "sort": ["Low Lit.", "Int. Lit.", "High Lit."], "axis": null}, "xOffset": {"field": "series", "type": "nominal", "sort": ["Data", "Full Model", "Model with heterogeneity in housing returns only"]}, "y": {"field": "value", "type": "quantitative", "axis": null}}},
            {"transform": [{"filter": "datum.series === 'Model with heterogeneity in housing returns only'"}], "mark": {"type": "bar", "fill": {"expr": "dots"}},
             "encoding": {"x": {"field": "lit", "type": "nominal", "sort": ["Low Lit.", "Int. Lit.", "High Lit."], "axis": null}, "xOffset": {"field": "series", "type": "nominal", "sort": ["Data", "Full Model", "Model with heterogeneity in housing returns only"]}, "y": {"field": "value", "type": "quantitative", "axis": null}}},
            {"transform": [{"filter": "datum.series === 'Model with heterogeneity in housing returns only'"}],
             "mark": {"type": "rule", "stroke": "white", "strokeWidth": 26, "strokeDash": [6, 1.8], "strokeCap": "butt"},
             "encoding": {
               "x": {"field": "lit", "type": "nominal", "sort": ["Low Lit.", "Int. Lit.", "High Lit."], "axis": {"orient": "top", "bandPosition": 0, "tickSize": -21, "labels": false, "tickOpacity": {"condition": {"test": "datum.value === 'Low Lit.'", "value": 0}, "value": 1}}},
               "xOffset": {"field": "series", "type": "nominal", "sort": ["Data", "Full Model", "Model with heterogeneity in housing returns only"]},
               "y": {"field": "value", "type": "quantitative", "axis": {"orient": "right", "values": [0, 0.2, 0.4, 0.6, 0.8, 1], "tickSize": -8, "labels": false, "tickOpacity": {"condition": {"test": "datum.value == 0 || datum.value == 1", "value": 0}, "value": 1}}},
               "y2": {"datum": 0}
             }},
            {"mark": {"type": "bar", "fillOpacity": 0, "stroke": "black", "strokeWidth": 1},
             "encoding": {"x": {"field": "lit", "type": "nominal", "sort": ["Low Lit.", "Int. Lit.", "High Lit."], "axis": null}, "xOffset": {"field": "series", "type": "nominal", "sort": ["Data", "Full Model", "Model with heterogeneity in housing returns only"]}, "y": {"field": "value", "type": "quantitative", "axis": null}}},
            {"mark": {"type": "text", "angle": 270, "align": "left", "baseline": "middle", "dx": 7, "fontSize": 22, "font": "Liberation Serif", "color": "black"},
             "encoding": {"x": {"field": "lit", "type": "nominal", "sort": ["Low Lit.", "Int. Lit.", "High Lit."], "axis": null}, "xOffset": {"field": "series", "type": "nominal", "sort": ["Data", "Full Model", "Model with heterogeneity in housing returns only"]}, "y": {"field": "value", "type": "quantitative", "axis": null}, "text": {"field": "value", "type": "quantitative", "format": "~g"}}}
          ],
          "resolve": {"axis": {"x": "independent", "y": "independent"}}
        },
        {
          "width": 363, "height": 300, "title": "Middle-Aged",
          "transform": [{"filter": "datum.m === 'LTV' && datum.age === 'Middle-Aged'"}],
          "layer": [
            {"mark": {"type": "bar"},
             "encoding": {
               "x": {"field": "lit", "type": "nominal", "sort": ["Low Lit.", "Int. Lit.", "High Lit."], "scale": {"paddingInner": 0, "paddingOuter": 0}, "axis": {"orient": "bottom", "bandPosition": 0, "tickSize": -21, "labelPadding": 35, "labelAngle": 0, "tickOpacity": {"condition": {"test": "datum.value === 'Low Lit.'", "value": 0}, "value": 1}}},
               "xOffset": {"field": "series", "type": "nominal", "sort": ["Data", "Full Model", "Model with heterogeneity in housing returns only"], "scale": {"domain": ["Data", "Full Model", "Model with heterogeneity in housing returns only"], "paddingInner": 0.125, "paddingOuter": 0.45}},
               "y": {"field": "value", "type": "quantitative", "scale": {"domain": [0, 1], "nice": false}, "axis": {"orient": "left", "values": [0, 0.2, 0.4, 0.6, 0.8, 1], "tickSize": -8, "labels": false, "tickOpacity": {"condition": {"test": "datum.value == 0 || datum.value == 1", "value": 0}, "value": 1}}},
               "fill": {"field": "series", "type": "nominal", "title": null, "sort": ["Data", "Full Model", "Model with heterogeneity in housing returns only"]}
             }},
            {"transform": [{"filter": "datum.series === 'Full Model'"}], "mark": {"type": "bar", "fill": {"expr": "datum.value < 0.3 ? hS : (datum.value < 0.47 ? hM : (datum.value < 0.65 ? hL : hXL))"}},
             "encoding": {"x": {"field": "lit", "type": "nominal", "sort": ["Low Lit.", "Int. Lit.", "High Lit."], "axis": null}, "xOffset": {"field": "series", "type": "nominal", "sort": ["Data", "Full Model", "Model with heterogeneity in housing returns only"]}, "y": {"field": "value", "type": "quantitative", "axis": null}}},
            {"transform": [{"filter": "datum.series === 'Model with heterogeneity in housing returns only'"}], "mark": {"type": "bar", "fill": {"expr": "dots"}},
             "encoding": {"x": {"field": "lit", "type": "nominal", "sort": ["Low Lit.", "Int. Lit.", "High Lit."], "axis": null}, "xOffset": {"field": "series", "type": "nominal", "sort": ["Data", "Full Model", "Model with heterogeneity in housing returns only"]}, "y": {"field": "value", "type": "quantitative", "axis": null}}},
            {"transform": [{"filter": "datum.series === 'Model with heterogeneity in housing returns only'"}],
             "mark": {"type": "rule", "stroke": "white", "strokeWidth": 26, "strokeDash": [6, 1.8], "strokeCap": "butt"},
             "encoding": {
               "x": {"field": "lit", "type": "nominal", "sort": ["Low Lit.", "Int. Lit.", "High Lit."], "axis": {"orient": "top", "bandPosition": 0, "tickSize": -21, "labels": false, "tickOpacity": {"condition": {"test": "datum.value === 'Low Lit.'", "value": 0}, "value": 1}}},
               "xOffset": {"field": "series", "type": "nominal", "sort": ["Data", "Full Model", "Model with heterogeneity in housing returns only"]},
               "y": {"field": "value", "type": "quantitative", "axis": {"orient": "right", "values": [0, 0.2, 0.4, 0.6, 0.8, 1], "tickSize": -8, "labels": false, "tickOpacity": {"condition": {"test": "datum.value == 0 || datum.value == 1", "value": 0}, "value": 1}}},
               "y2": {"datum": 0}
             }},
            {"mark": {"type": "bar", "fillOpacity": 0, "stroke": "black", "strokeWidth": 1},
             "encoding": {"x": {"field": "lit", "type": "nominal", "sort": ["Low Lit.", "Int. Lit.", "High Lit."], "axis": null}, "xOffset": {"field": "series", "type": "nominal", "sort": ["Data", "Full Model", "Model with heterogeneity in housing returns only"]}, "y": {"field": "value", "type": "quantitative", "axis": null}}},
            {"mark": {"type": "text", "angle": 270, "align": "left", "baseline": "middle", "dx": 7, "fontSize": 22, "font": "Liberation Serif", "color": "black"},
             "encoding": {"x": {"field": "lit", "type": "nominal", "sort": ["Low Lit.", "Int. Lit.", "High Lit."], "axis": null}, "xOffset": {"field": "series", "type": "nominal", "sort": ["Data", "Full Model", "Model with heterogeneity in housing returns only"]}, "y": {"field": "value", "type": "quantitative", "axis": null}, "text": {"field": "value", "type": "quantitative", "format": "~g"}}}
          ],
          "resolve": {"axis": {"x": "independent", "y": "independent"}}
        },
        {
          "width": 363, "height": 300, "title": "Old",
          "transform": [{"filter": "datum.m === 'LTV' && datum.age === 'Old'"}],
          "layer": [
            {"mark": {"type": "bar"},
             "encoding": {
               "x": {"field": "lit", "type": "nominal", "sort": ["Low Lit.", "Int. Lit.", "High Lit."], "scale": {"paddingInner": 0, "paddingOuter": 0}, "axis": {"orient": "bottom", "bandPosition": 0, "tickSize": -21, "labelPadding": 35, "labelAngle": 0, "tickOpacity": {"condition": {"test": "datum.value === 'Low Lit.'", "value": 0}, "value": 1}}},
               "xOffset": {"field": "series", "type": "nominal", "sort": ["Data", "Full Model", "Model with heterogeneity in housing returns only"], "scale": {"domain": ["Data", "Full Model", "Model with heterogeneity in housing returns only"], "paddingInner": 0.125, "paddingOuter": 0.45}},
               "y": {"field": "value", "type": "quantitative", "scale": {"domain": [0, 1], "nice": false}, "axis": {"orient": "left", "values": [0, 0.2, 0.4, 0.6, 0.8, 1], "tickSize": -8, "labels": false, "tickOpacity": {"condition": {"test": "datum.value == 0 || datum.value == 1", "value": 0}, "value": 1}}},
               "fill": {"field": "series", "type": "nominal", "title": null, "sort": ["Data", "Full Model", "Model with heterogeneity in housing returns only"]}
             }},
            {"transform": [{"filter": "datum.series === 'Full Model'"}], "mark": {"type": "bar", "fill": {"expr": "datum.value < 0.3 ? hS : (datum.value < 0.47 ? hM : (datum.value < 0.65 ? hL : hXL))"}},
             "encoding": {"x": {"field": "lit", "type": "nominal", "sort": ["Low Lit.", "Int. Lit.", "High Lit."], "axis": null}, "xOffset": {"field": "series", "type": "nominal", "sort": ["Data", "Full Model", "Model with heterogeneity in housing returns only"]}, "y": {"field": "value", "type": "quantitative", "axis": null}}},
            {"transform": [{"filter": "datum.series === 'Model with heterogeneity in housing returns only'"}], "mark": {"type": "bar", "fill": {"expr": "dots"}},
             "encoding": {"x": {"field": "lit", "type": "nominal", "sort": ["Low Lit.", "Int. Lit.", "High Lit."], "axis": null}, "xOffset": {"field": "series", "type": "nominal", "sort": ["Data", "Full Model", "Model with heterogeneity in housing returns only"]}, "y": {"field": "value", "type": "quantitative", "axis": null}}},
            {"transform": [{"filter": "datum.series === 'Model with heterogeneity in housing returns only'"}],
             "mark": {"type": "rule", "stroke": "white", "strokeWidth": 26, "strokeDash": [6, 1.8], "strokeCap": "butt"},
             "encoding": {
               "x": {"field": "lit", "type": "nominal", "sort": ["Low Lit.", "Int. Lit.", "High Lit."], "axis": {"orient": "top", "bandPosition": 0, "tickSize": -21, "labels": false, "tickOpacity": {"condition": {"test": "datum.value === 'Low Lit.'", "value": 0}, "value": 1}}},
               "xOffset": {"field": "series", "type": "nominal", "sort": ["Data", "Full Model", "Model with heterogeneity in housing returns only"]},
               "y": {"field": "value", "type": "quantitative", "axis": {"orient": "right", "values": [0, 0.2, 0.4, 0.6, 0.8, 1], "tickSize": -8, "labels": false, "tickOpacity": {"condition": {"test": "datum.value == 0 || datum.value == 1", "value": 0}, "value": 1}}},
               "y2": {"datum": 0}
             }},
            {"mark": {"type": "bar", "fillOpacity": 0, "stroke": "black", "strokeWidth": 1},
             "encoding": {"x": {"field": "lit", "type": "nominal", "sort": ["Low Lit.", "Int. Lit.", "High Lit."], "axis": null}, "xOffset": {"field": "series", "type": "nominal", "sort": ["Data", "Full Model", "Model with heterogeneity in housing returns only"]}, "y": {"field": "value", "type": "quantitative", "axis": null}}},
            {"mark": {"type": "text", "angle": 270, "align": "left", "baseline": "middle", "dx": 7, "fontSize": 22, "font": "Liberation Serif", "color": "black"},
             "encoding": {"x": {"field": "lit", "type": "nominal", "sort": ["Low Lit.", "Int. Lit.", "High Lit."], "axis": null}, "xOffset": {"field": "series", "type": "nominal", "sort": ["Data", "Full Model", "Model with heterogeneity in housing returns only"]}, "y": {"field": "value", "type": "quantitative", "axis": null}, "text": {"field": "value", "type": "quantitative", "format": "~g"}}}
          ],
          "resolve": {"axis": {"x": "independent", "y": "independent"}}
        }
      ]
    }
  ]
}
